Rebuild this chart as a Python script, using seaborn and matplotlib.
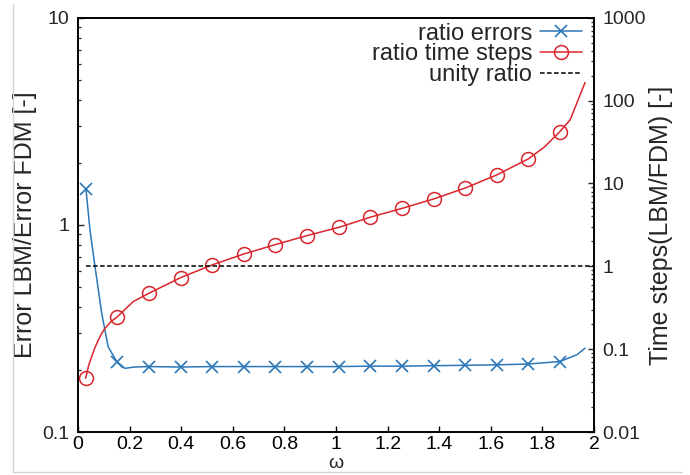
import numpy as np
import pandas as pd
import seaborn as sns
import matplotlib
matplotlib.use("Agg")
import matplotlib.pyplot as plt
from matplotlib.lines import Line2D
from matplotlib.ticker import FixedLocator, FuncFormatter, LogLocator, NullFormatter

# ---- data ----
marker_omega = [0.030, 0.153, 0.275, 0.398, 0.520, 0.643, 0.765, 0.888,
                1.010, 1.133, 1.255, 1.378, 1.500, 1.623, 1.745, 1.868]
err_markers = [1.488, 0.219, 0.207, 0.206, 0.207, 0.207, 0.207, 0.207,
               0.207, 0.208, 0.208, 0.209, 0.210, 0.211, 0.213, 0.219]
steps_markers = [0.0445, 0.247, 0.473, 0.731, 1.04, 1.41, 1.83, 2.35,
                 2.95, 3.92, 5.0, 6.5, 8.8, 12.7, 19.8, 42.4]

err_curve_omega = [0.031, 0.0465, 0.066, 0.092, 0.117, 0.150, 0.182, 0.220, 0.275,
                   0.398, 0.520, 0.643, 0.765, 0.888, 1.010, 1.133, 1.255, 1.378,
                   1.500, 1.623, 1.745, 1.868, 1.933, 1.965]
err_curve = [1.488, 0.946, 0.629, 0.374, 0.258, 0.219, 0.203, 0.206, 0.207,
             0.206, 0.207, 0.207, 0.207, 0.207, 0.207, 0.208, 0.208, 0.209,
             0.210, 0.211, 0.213, 0.219, 0.236, 0.254]

steps_curve_omega = [0.030, 0.041, 0.053, 0.066, 0.079, 0.092, 0.105, 0.128, 0.153,
                     0.214, 0.275, 0.398, 0.520, 0.643, 0.765, 0.888, 1.010, 1.133,
                     1.255, 1.378, 1.500, 1.623, 1.745, 1.807, 1.868, 1.907, 1.933,
                     1.965]
steps_curve = [0.0445, 0.063, 0.0812, 0.105, 0.129, 0.155, 0.179, 0.215, 0.247,
               0.375, 0.473, 0.731, 1.04, 1.41, 1.83, 2.35, 2.95, 3.92,
               5.0, 6.5, 8.8, 12.7, 19.8, 27.5, 42.4, 58.6, 93.3,
               165.5]

unity_omega = [0.030, 2.0]
unity_value = [1.0, 1.0]

x_ticks = [0, 0.2, 0.4, 0.6, 0.8, 1, 1.2, 1.4, 1.6, 1.8, 2]
left_ticks = [0.1, 1, 10]
right_ticks = [0.01, 0.1, 1, 10, 100, 1000]

labels = ["ratio errors", "ratio time steps", "unity ratio"]

BLUE = "#2b77b7"
RED = "#d8262c"

sns.set_style("white")
plt.rcParams["font.family"] = ["Liberation Sans", "DejaVu Sans"]
plt.rcParams["mathtext.fontset"] = "dejavusans"

fig = plt.figure(figsize=(6.9, 4.75), dpi=100)
ax = fig.add_axes([0.113, 0.0905, 0.748, 0.872])
ax2 = ax.twinx()

df_err = pd.DataFrame({"omega": err_curve_omega, "v": err_curve})
df_errm = pd.DataFrame({"omega": marker_omega, "v": err_markers})
df_st = pd.DataFrame({"omega": steps_curve_omega, "v": steps_curve})
df_stm = pd.DataFrame({"omega": marker_omega, "v": steps_markers})
df_un = pd.DataFrame({"omega": unity_omega, "v": unity_value})

sns.lineplot(data=df_err, x="omega", y="v", ax=ax, color=BLUE, lw=1.1,
             sort=False, estimator=None)
ax.plot(df_errm["omega"], df_errm["v"], ls="none", marker="x", ms=9,
        mew=1.2, color=BLUE)

sns.lineplot(data=df_st, x="omega", y="v", ax=ax2, color=RED, lw=1.1,
             sort=False, estimator=None)
ax2.plot(df_stm["omega"], df_stm["v"], ls="none", marker="o", ms=10,
         mfc="none", mec=RED, mew=1.1)
sns.lineplot(data=df_un, x="omega", y="v", ax=ax2, color="black", lw=1.1,
             dashes=False)
ax2.lines[-1].set_dashes((3, 1.6))

ax.set_xlim(0, 2)
ax.set_yscale("log")
ax.set_ylim(0.1, 10)
ax2.set_yscale("log")
ax2.set_ylim(0.01, 1000)

fmt = FuncFormatter(lambda v, p: "%g" % v)
ax.xaxis.set_major_locator(FixedLocator(x_ticks))
ax.xaxis.set_major_formatter(fmt)
ax.yaxis.set_major_locator(FixedLocator(left_ticks))
ax.yaxis.set_major_formatter(fmt)
ax.yaxis.set_minor_locator(LogLocator(base=10, subs=np.arange(2, 10)))
ax.yaxis.set_minor_formatter(NullFormatter())
ax2.yaxis.set_major_locator(FixedLocator(right_ticks))
ax2.yaxis.set_major_formatter(fmt)
ax2.yaxis.set_minor_locator(LogLocator(base=10, subs=np.arange(2, 10)))
ax2.yaxis.set_minor_formatter(NullFormatter())

for a in (ax, ax2):
    for s in a.spines.values():
        s.set_color("black")
        s.set_linewidth(1.2)
        s.set_visible(True)

ax.tick_params(axis="x", which="major", direction="in", length=4, width=1,
               labelsize=14, pad=3, top=False, bottom=True, colors="black")
ax.tick_params(axis="y", which="major", direction="in", length=4, width=1,
               labelsize=14, pad=6, left=True, right=False)
ax.tick_params(axis="y", which="minor", direction="in", length=2.5, width=0.9,
               left=True, right=False)
ax2.tick_params(axis="y", which="major", direction="in", length=4, width=1,
                labelsize=14, pad=6, right=True, left=False)
ax2.tick_params(axis="y", which="minor", direction="in", length=2.5, width=0.9,
                right=True, left=False)

ax.set_xlabel("ω", fontsize=14, labelpad=1)
ax.set_ylabel("Error LBM/Error FDM [-]", fontsize=18, labelpad=4)
ax2.set_ylabel("Time steps(LBM/FDM) [-]", fontsize=18, labelpad=2)

handles = [
    Line2D([], [], color=BLUE, lw=1.1, marker="x", ms=9, mew=1.2),
    Line2D([], [], color=RED, lw=1.1, marker="o", ms=10, mfc="none", mew=1.1),
    Line2D([], [], color="black", lw=1.1, dashes=(3, 1.6)),
]
leg = ax2.legend(handles, labels, loc="upper right", frameon=False,
                 fontsize=17, markerfirst=False, handlelength=1.75,
                 handletextpad=0.35, labelspacing=-0.05, borderaxespad=0.0,
                 borderpad=0.2, bbox_to_anchor=(0.985, 1.0))
for t in leg.get_texts():
    t.set_ha("right")
leg._legend_box.align = "right"

# light scan border
fig.add_artist(Line2D([13 / 690, 13 / 690], [3 / 475, 471 / 475],
                      transform=fig.transFigure, color="#d4d4d4", lw=1))
fig.add_artist(Line2D([13 / 690, 682 / 690], [3 / 475, 3 / 475],
                      transform=fig.transFigure, color="#d4d4d4", lw=1))

fig.savefig("out.png", dpi=100)
